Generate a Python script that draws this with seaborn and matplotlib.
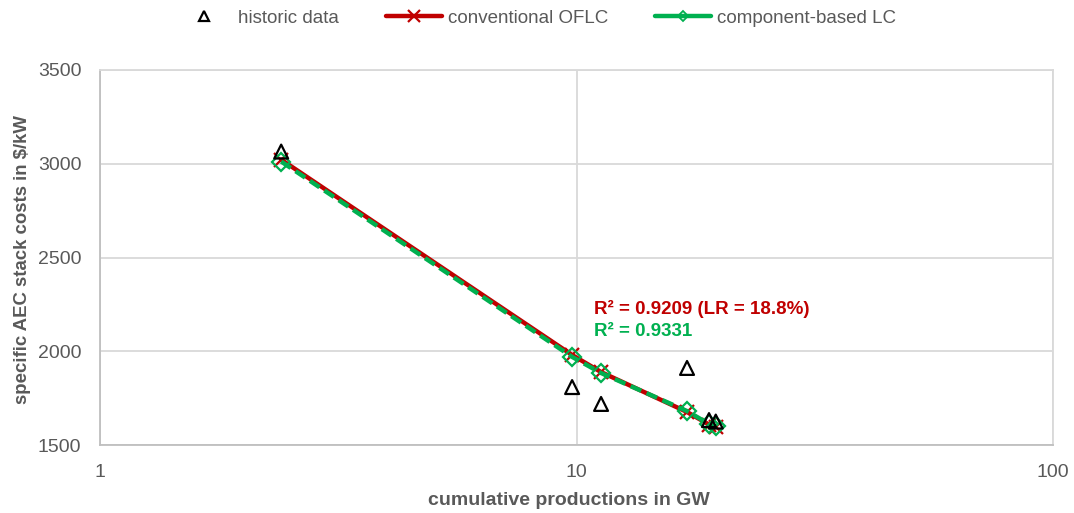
import numpy as np
import pandas as pd
import matplotlib
matplotlib.use("Agg")
import matplotlib.pyplot as plt
from matplotlib.lines import Line2D
import seaborn as sns

# ---- data ----
hist_x = [2.40, 9.79, 11.26, 17.06, 18.97, 19.6]
hist_y = [3065, 1809, 1719, 1911, 1633, 1625]

model_x = [2.40, 9.79, 11.26, 17.06, 18.97, 19.6]
oflc_y = [3022, 1980, 1889, 1676, 1609, 1597]
comp_y = [3012, 1970, 1884, 1681, 1612, 1600]

x_ticks = [1, 10, 100]
y_ticks = [1500, 2000, 2500, 3000, 3500]

RED = "#C00000"
GREEN = "#00B050"
GRAY = "#595959"
GRID = "#D9D9D9"

sns.set_theme(style="white")
plt.rcParams["font.family"] = ["Liberation Sans", "DejaVu Sans"]

fig = plt.figure(figsize=(10.74, 5.13), dpi=100)
ax = fig.add_axes([100 / 1074, 1 - 445 / 513, (1053 - 100) / 1074, (445 - 70) / 513])

df_hist = pd.DataFrame({"x": hist_x, "y": hist_y})
df_oflc = pd.DataFrame({"x": model_x, "y": oflc_y})
df_comp = pd.DataFrame({"x": model_x, "y": comp_y})

sns.lineplot(data=df_oflc, x="x", y="y", ax=ax, color=RED, lw=3.2, sort=False,
             marker="x", markersize=10, markeredgewidth=1.6, markeredgecolor=RED, zorder=2)
sns.lineplot(data=df_comp, x="x", y="y", ax=ax, color=GREEN, lw=3.2, sort=False,
             linestyle=(0, (2.6, 1.3)), zorder=3)
ax.plot(model_x, comp_y, linestyle="none", marker="D", markersize=9,
        markerfacecolor="none", markeredgecolor=GREEN, markeredgewidth=1.6, zorder=4)
sns.scatterplot(data=df_hist, x="x", y="y", ax=ax, marker="^", s=100,
                facecolor="none", edgecolor="black", linewidth=1.6, zorder=5)

ax.set_xscale("log")
ax.set_xlim(1, 100)
ax.set_ylim(1500, 3500)
ax.set_xticks(x_ticks)
ax.set_xticklabels([str(v) for v in x_ticks])
ax.minorticks_off()
ax.set_yticks(y_ticks)
ax.set_yticklabels([str(v) for v in y_ticks])
ax.tick_params(axis="y", labelsize=14, colors=GRAY, length=0, pad=13.5)
ax.tick_params(axis="x", labelsize=14, colors=GRAY, length=0, pad=14)
ax.grid(True, which="major", color=GRID, lw=1.3)
for s in ax.spines.values():
    s.set_color(GRID)
    s.set_linewidth(1.3)
ax.spines["left"].set_color("#BFBFBF")
ax.spines["bottom"].set_color("#BFBFBF")

ax.set_xlabel("cumulative productions in GW", fontsize=14, fontweight="bold", color=GRAY)
ax.set_ylabel("specific AEC stack costs in $/kW", fontsize=13.4, fontweight="bold", color=GRAY)
ax.xaxis.set_label_coords((569 - 100) / 953, -(492 - 445) / 375)
ax.yaxis.set_label_coords(-(100 - 31) / 953, (445 - 259) / 375)

ax.text(10.88, 2228, "R² = 0.9209 (LR = 18.8%)", color=RED, fontsize=13.5, fontweight="bold", va="center")
ax.text(10.88, 2108, "R² = 0.9331", color=GREEN, fontsize=13.5, fontweight="bold", va="center")

handles = [
    Line2D([], [], linestyle="none", marker="^", markersize=7, markerfacecolor="none",
           markeredgecolor="black", markeredgewidth=1.6),
    Line2D([], [], color=RED, lw=3.2, marker="x", markersize=9, markeredgewidth=1.6),
    Line2D([], [], color=GREEN, lw=3.2, marker="D", markersize=5, markerfacecolor="none",
           markeredgewidth=1.3),
]
labels = ["historic data", "conventional OFLC", "component-based LC"]
leg = fig.legend(handles, labels, loc="center", bbox_to_anchor=(0.499, 1 - 18 / 513), ncol=3,
                 frameon=False, fontsize=13.5, handlelength=3.0, columnspacing=2.5, handletextpad=0.3)
for t in leg.get_texts():
    t.set_color(GRAY)

fig.savefig("out.png", dpi=100)
